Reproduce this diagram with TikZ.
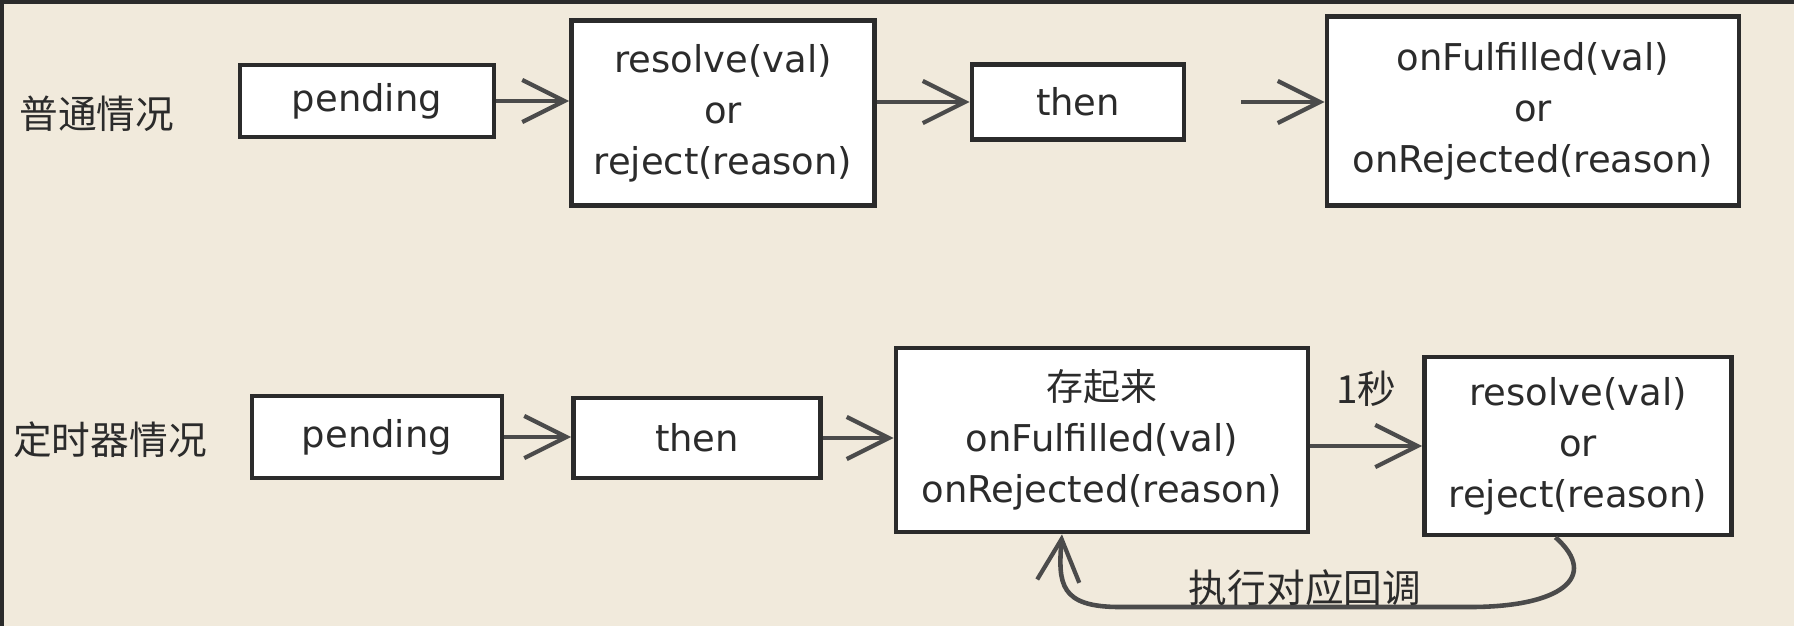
\documentclass[tikz,border=0pt]{standalone}
\usepackage{fontspec}
\setmainfont{DejaVu Sans}
\newfontfamily\cjk{Noto Sans CJK SC}
\usepackage{xcolor}
\usetikzlibrary{arrows.meta}
\definecolor{paper}{HTML}{F1EADC}
\definecolor{ink}{HTML}{2B2B2B}

\tikzset{
  box/.style={draw=ink, fill=white, line width=1.3pt, inner sep=0pt, align=center,
              text=ink, font=\fontsize{10.5}{14.5}\selectfont},
  flow/.style={draw=ink!85, line width=1.3pt,
               -{Straight Barb[length=12pt,width=12pt,line width=1.2pt]}},
  case/.style={text=ink, font=\cjk\fontsize{11}{13}\selectfont},
}

\begin{document}
\begin{tikzpicture}[x=0.01cm, y=-0.01cm]
  \useasboundingbox (0,0) rectangle (1794,626);
  \fill[paper] (0,0) rectangle (1794,626);
  \draw[ink, line width=2pt] (0,626) -- (0,0) -- (1794,0);
 % normal case
  \node[case] (lbl1) at (97,114) {普通情况};
  \node[box, minimum width=2.54cm, minimum height=0.72cm] (pend1) at (367,101) {pending};
  \node[box, minimum width=3.03cm, minimum height=1.85cm] (res1) at (723,113)
       {resolve(val)\\or\\reject(reason)};
  \node[box, minimum width=2.12cm, minimum height=0.75cm] (then1) at (1078,102) {then};
  \node[box, minimum width=4.12cm, minimum height=1.89cm] (onf1) at (1533,111)
       {onFulfilled(val)\\or\\onRejected(reason)};
  \draw[flow] (pend1.east) -- (pend1.east -| res1.west);
  \draw[flow] (res1.east |- then1.west) -- (then1.west);
  \draw[flow, shorten <=0.55cm] (then1.east) -- (then1.east -| onf1.west);
 % timer case
  \node[case] (lbl2) at (110,440) {定时器情况};
  \node[box, minimum width=2.50cm, minimum height=0.82cm] (pend2) at (377,437) {pending};
  \node[box, minimum width=2.47cm, minimum height=0.80cm] (then2) at (697,438) {then};
  \node[box, minimum width=4.12cm, minimum height=1.84cm] (stored) at (1102,440)
       {{\cjk 存起来}\\onFulfilled(val)\\onRejected(reason)};
  \node[box, minimum width=3.07cm, minimum height=1.78cm] (res2) at (1578,446)
       {resolve(val)\\or\\reject(reason)};
  \draw[flow] (pend2.east) -- (pend2.east -| then2.west);
  \draw[flow] (then2.east) -- (then2.east -| stored.west);
  \draw[flow] (stored.east |- res2.west) -- (res2.west)
        node[case, midway, above=0.25cm] (sec) {1秒};
 % callback back to the stored box
  \draw[flow] ([xshift=-0.225cm]res2.south) .. controls +(45,40) and +(90,0) .. (1470,607)
        -- (1120,607) .. controls +(-60,0) and +(-4,50) .. ([xshift=-0.4cm]stored.south);
  \node[case] (cb) at (1305,588) {执行对应回调};
\end{tikzpicture}
\end{document}
